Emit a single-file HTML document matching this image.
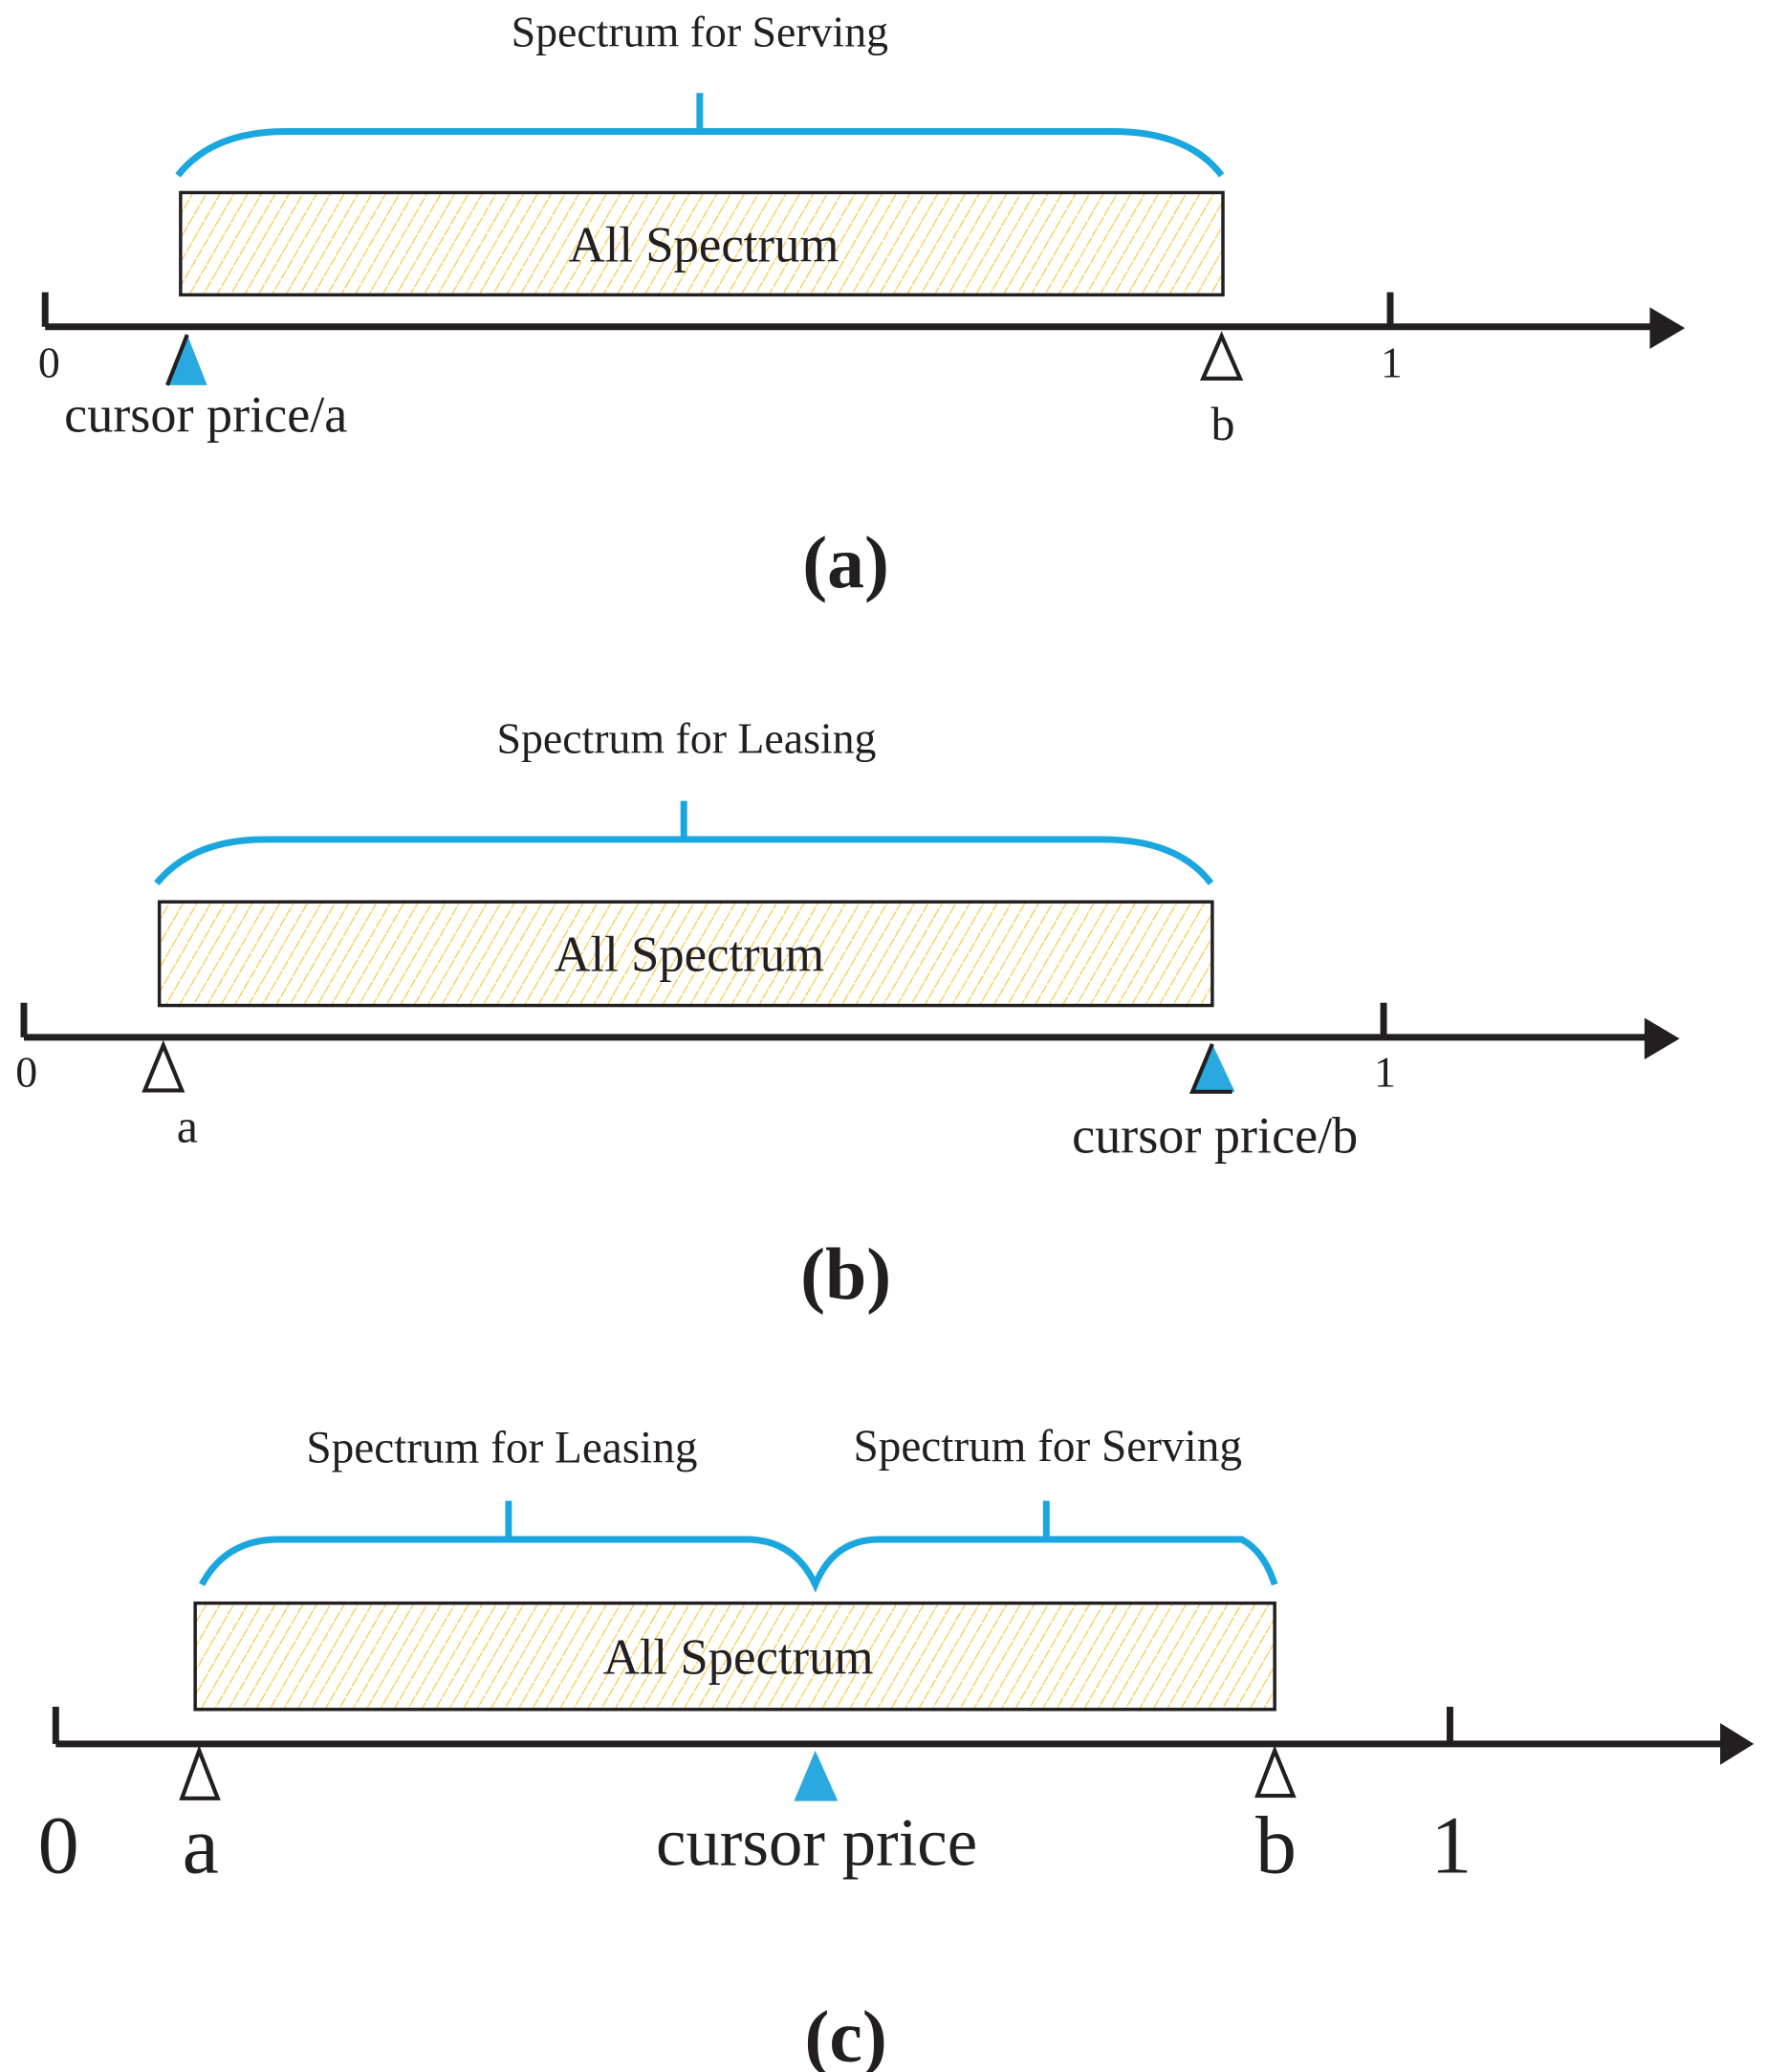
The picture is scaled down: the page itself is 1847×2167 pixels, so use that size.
<!DOCTYPE html>
<html><head><meta charset="utf-8"><style>
html,body{margin:0;padding:0;background:#fff;}
svg{display:block;}
text{font-family:"Liberation Serif",serif;fill:#231f20;}
</style></head><body>
<svg width="1847" height="2167" viewBox="0 0 1330 1560" preserveAspectRatio="none" xmlns="http://www.w3.org/2000/svg">
<defs>
<pattern id="h" width="9" height="9" patternUnits="userSpaceOnUse" patternTransform="rotate(30)">
<rect width="9" height="9" fill="#fff"/>
<line x1="0" y1="0" x2="0" y2="9" stroke="#f7c948" stroke-width="1.8" stroke-dasharray="4 1"/>
</pattern>
</defs>
<g stroke-linecap="butt">
<!-- Panel a -->
<text x="527" y="35" font-size="33" text-anchor="middle">Spectrum for Serving</text>
<path d="M527 70 V99 M134 132 Q160 99 215 99 H838 Q895 99 920 132" fill="none" stroke="#1aa7e0" stroke-width="5"/>
<rect x="136" y="145" width="785" height="77" fill="url(#h)" stroke="#231f20" stroke-width="2.5"/>
<text x="530" y="197" font-size="38" text-anchor="middle">All Spectrum</text>
<path d="M34 246 H1250 M34 220 V246 M1047 220 V246" stroke="#231f20" stroke-width="5" fill="none"/>
<path d="M1244 234 L1266 247 L1244 260 Z" fill="#231f20" stroke="#231f20" stroke-width="3"/>
<text x="37" y="284" font-size="33" text-anchor="middle">0</text>
<text x="1048" y="284" font-size="33" text-anchor="middle">1</text>
<path d="M141 252 L126 290 L156 290 Z" fill="#2aa9e0"/>
<path d="M141 252 L126 290" stroke="#231f20" stroke-width="3"/>
<path d="M920 253 L906 285 L934 285 Z" fill="#fff" stroke="#231f20" stroke-width="3"/>
<text x="155" y="325" font-size="39" text-anchor="middle">cursor price/a</text>
<text x="921" y="331" font-size="36" text-anchor="middle">b</text>
<text x="637" y="442" font-size="56" font-weight="bold" text-anchor="middle">(a)</text>

<!-- Panel b -->
<text x="517" y="567" font-size="33" text-anchor="middle">Spectrum for Leasing</text>
<path d="M515 603 V632 M118 665 Q145 632 200 632 H830 Q887 632 912 665" fill="none" stroke="#1aa7e0" stroke-width="5"/>
<rect x="120" y="679" width="793" height="78" fill="url(#h)" stroke="#231f20" stroke-width="2.5"/>
<text x="519" y="731" font-size="38" text-anchor="middle">All Spectrum</text>
<path d="M18 781 H1245 M18 755 V781 M1042 755 V781" stroke="#231f20" stroke-width="5" fill="none"/>
<path d="M1240 769 L1262 782 L1240 795 Z" fill="#231f20" stroke="#231f20" stroke-width="3"/>
<text x="20" y="818" font-size="33" text-anchor="middle">0</text>
<text x="1043" y="818" font-size="33" text-anchor="middle">1</text>
<path d="M123 787 L109 821 L137 821 Z" fill="#fff" stroke="#231f20" stroke-width="3"/>
<path d="M913 786 L898 822 L930 822 Z" fill="#2aa9e0"/>
<path d="M913 786 L898 822 L928 822" fill="none" stroke="#231f20" stroke-width="3"/>
<text x="141" y="860" font-size="36" text-anchor="middle">a</text>
<text x="915" y="868" font-size="39" text-anchor="middle">cursor price/b</text>
<text x="637" y="978" font-size="56" font-weight="bold" text-anchor="middle">(b)</text>

<!-- Panel c -->
<text x="378" y="1101" font-size="34" text-anchor="middle">Spectrum for Leasing</text>
<text x="789" y="1100" font-size="34" text-anchor="middle">Spectrum for Serving</text>
<path d="M383 1130 V1159 M152 1193 Q170 1159 210 1159 H562 Q598 1159 614 1193 Q628 1159 662 1159 H935 Q952 1168 960 1193 M788 1130 V1159" fill="none" stroke="#1aa7e0" stroke-width="5"/>
<rect x="147" y="1207" width="813" height="80" fill="url(#h)" stroke="#231f20" stroke-width="2.5"/>
<text x="556" y="1260" font-size="38" text-anchor="middle">All Spectrum</text>
<path d="M42 1313 H1300 M42 1285 V1313 M1092 1285 V1313" stroke="#231f20" stroke-width="5" fill="none"/>
<path d="M1297 1300 L1318 1313 L1297 1326 Z" fill="#231f20" stroke="#231f20" stroke-width="3"/>
<path d="M150 1318 L137 1354 L164 1354 Z" fill="#fff" stroke="#231f20" stroke-width="3"/>
<path d="M614 1318 L598 1356 L631 1356 Z" fill="#2aa9e0"/>
<path d="M960 1318 L947 1352 L974 1352 Z" fill="#fff" stroke="#231f20" stroke-width="3"/>
<text x="44" y="1410" font-size="62" text-anchor="middle">0</text>
<text x="151" y="1410" font-size="62" text-anchor="middle">a</text>
<text x="615" y="1404" font-size="51" text-anchor="middle">cursor price</text>
<text x="961" y="1410" font-size="62" text-anchor="middle">b</text>
<text x="1093" y="1410" font-size="62" text-anchor="middle">1</text>
<text x="637" y="1552" font-size="56" font-weight="bold" text-anchor="middle">(c)</text>
</g>
</svg>
</body></html>
